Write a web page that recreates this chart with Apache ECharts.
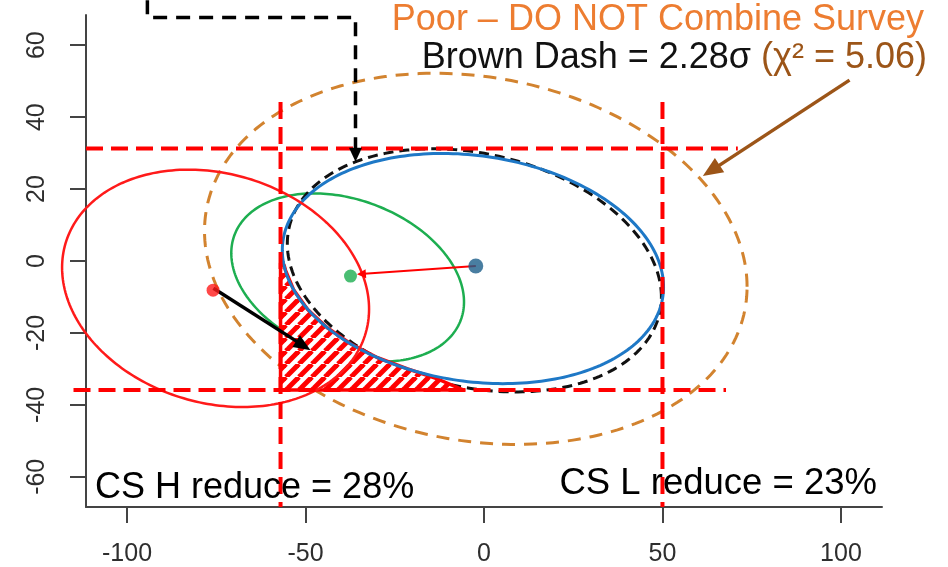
<!DOCTYPE html>
<html><head><meta charset="utf-8">
<script src="https://cdn.jsdelivr.net/npm/echarts@6/dist/echarts.min.js"></script>
<style>html,body{margin:0;padding:0;background:#fff}#c{width:948px;height:567px}</style>
</head><body><div id="c"></div>
<script>
// ---- axes ----
const xTicks = [-100, -50, 0, 50, 100];
const yTicks = [-60, -40, -20, 0, 20, 40, 60];
const xRange = [-111.5, 111.5];
const yRange = [-68.4, 68.4];

// ---- ellipses: centre, half-width, half-height, correlation ----
const ellipseNames = ['CS H', 'Combined', 'CS L', 'Black dash', 'Brown dash'];
const ellipseCx    = [-75.2, -38.2, -3.1, -2.7, -2.3];
const ellipseCy    = [-7.6, -4.6, -2.1, -2.6, 0.6];
const ellipseHalfW = [43.0, 32.6, 53.4, 52.4, 76.0];
const ellipseHalfH = [33.0, 23.4, 32.0, 33.8, 51.6];
const ellipseRho   = [-0.175, -0.29, -0.16, -0.22, -0.15];

// ---- centre points ----
const pointNames = ['CS L centre', 'Combined centre', 'CS H centre'];
const pointX = [-2.3, -37.4, -75.9];
const pointY = [-1.4, -4.2, -8.1];

// ---- red reference lines ----
const refVX = [-57, 50];
const refVYFrom = [44.2, 44.2];
const refVYTo = [-68.4, -68.4];
const refHY = [31.25, -35.9];
const refHXFrom = [-111.5, -115];
const refHXTo = [71.1, 67.8];

// ---- hatched region (outline vertices) ----
const hatchX = [-57, -56.0, -55.6, -53.3, -49.4, -44.0, -37.4, -29.8, -21.4, -13.5, -5.7, -57];
const hatchY = [-0.6, -1.2, -2.6, -8.1, -13.5, -18.5, -23.0, -26.9, -30.0, -32.6, -35.9, -35.9];

// ---- arrows ----
const arrowX1 = [-2.3, -75.8, 102.4];
const arrowY1 = [-1.4, -7.6, 50.3];
const arrowX2 = [-35.6, -48.6, 61.3];
const arrowY2 = [-3.7, -24.8, 23.6];
const pointerX = [-94.3, -94.3, -36.0, -36.0];
const pointerY = [72.5, 67.7, 67.7, 27.6];

// ---- texts ----
const titleText = 'Poor \u2013 DO NOT Combine Survey';
const subA = 'Brown Dash = 2.28\u03c3 ';
const subB = '(\u03c7\u00b2 = 5.06)';
const noteH = 'CS H reduce = 28%';
const noteL = 'CS L reduce = 23%';

const chart = echarts.init(document.getElementById('c'), null, {renderer: 'canvas'});

function ellipseSeries(i, color, width, dash, z) {
  return {
    type: 'custom', name: ellipseNames[i], coordinateSystem: 'cartesian2d', z: z, clip: false,
    silent: true,
    data: [[ellipseCx[i], ellipseCy[i], ellipseHalfW[i], ellipseHalfH[i], ellipseRho[i]]],
    renderItem: function (params, api) {
      const cx = api.value(0), cy = api.value(1), hw = api.value(2), hh = api.value(3), r = api.value(4);
      const s = Math.sqrt(1 - r * r);
      const pts = [];
      for (let k = 0; k <= 240; k++) {
        const t = k / 240 * 2 * Math.PI;
        pts.push(api.coord([cx + hw * Math.cos(t), cy + hh * (r * Math.cos(t) + s * Math.sin(t))]));
      }
      return {type: 'polyline', shape: {points: pts},
        style: {stroke: color, lineWidth: width, lineDash: dash, fill: null}};
    }
  };
}

function arrowGroup(api, pts, color, width, headLen, headW, dash) {
  const c = pts.map(p => api.coord(p));
  const n = c.length;
  const tip = c[n - 1], prev = c[n - 2];
  const dx = tip[0] - prev[0], dy = tip[1] - prev[1], L = Math.hypot(dx, dy);
  const ux = dx / L, uy = dy / L;
  const base = [tip[0] - ux * headLen * 0.8, tip[1] - uy * headLen * 0.8];
  const hb = [tip[0] - ux * headLen, tip[1] - uy * headLen];
  const linePts = c.slice(0, n - 1).concat([base]);
  return {type: 'group', children: [
    {type: 'polyline', shape: {points: linePts}, style: {stroke: color, lineWidth: width, lineDash: dash || null, fill: null}},
    {type: 'polygon', shape: {points: [tip, [hb[0] - uy * headW / 2, hb[1] + ux * headW / 2], [hb[0] + uy * headW / 2, hb[1] - ux * headW / 2]]},
      style: {fill: color, stroke: null}}
  ]};
}

// hatch pattern (opaque white ground, red diagonal stripes)
const T = 13;
const pc = document.createElement('canvas');
pc.width = T; pc.height = T;
const g = pc.getContext('2d');
g.fillStyle = '#FFFFFF'; g.fillRect(0, 0, T, T);
g.strokeStyle = '#FF0000'; g.lineWidth = 5;
for (let k = -1; k <= 1; k++) { g.beginPath(); g.moveTo(k * T, T); g.lineTo(k * T + T, 0); g.stroke(); }

const arrowColors = ['#FF0000', '#000000', '#9C5518'];
const arrowWidths = [2, 3.5, 3.5];
const arrowHeads = [[9, 9], [17, 14], [20, 17]];

const series = [
  ellipseSeries(4, '#D2832F', 3, [13, 9], 2),
  ellipseSeries(1, '#1DAE50', 2.5, null, 3),
  ellipseSeries(3, '#111111', 3, [10, 6], 4),
  {
    type: 'custom', name: 'Overlap', coordinateSystem: 'cartesian2d', z: 5, clip: false, silent: true,
    data: [[hatchX[0], hatchY[0]]],
    renderItem: function (params, api) {
      const pts = hatchX.map((x, i) => api.coord([x, hatchY[i]]));
      return {type: 'polygon', shape: {points: pts},
        style: {fill: {image: pc, repeat: 'repeat'}, stroke: '#FF0000', lineWidth: 3.5, lineJoin: 'round'}};
    }
  },
  ellipseSeries(2, '#1E78C6', 3, null, 6),
  ellipseSeries(0, '#FF1A1A', 2.5, null, 6),
  {
    type: 'custom', name: 'Reference V', coordinateSystem: 'cartesian2d', z: 7, clip: false, silent: true,
    data: refVX.map((x, i) => [x, refVYFrom[i], refVYTo[i]]),
    renderItem: function (params, api) {
      const a = api.coord([api.value(0), api.value(1)]), b = api.coord([api.value(0), api.value(2)]);
      return {type: 'line', shape: {x1: a[0], y1: a[1], x2: b[0], y2: b[1]},
        style: {stroke: '#FF0000', lineWidth: 4, lineDash: [17, 8]}};
    }
  },
  {
    type: 'custom', name: 'Reference H', coordinateSystem: 'cartesian2d', z: 7, clip: false, silent: true,
    data: refHY.map((y, i) => [refHXFrom[i], y, refHXTo[i]]),
    renderItem: function (params, api) {
      const a = api.coord([api.value(0), api.value(1)]), b = api.coord([api.value(2), api.value(1)]);
      return {type: 'line', shape: {x1: a[0], y1: a[1], x2: b[0], y2: b[1]},
        style: {stroke: '#FF0000', lineWidth: 4, lineDash: [17, 8]}};
    }
  },
  {
    type: 'custom', name: 'Arrows', coordinateSystem: 'cartesian2d', z: 8, clip: false, silent: true,
    data: arrowX1.map((x, i) => [x, arrowY1[i], arrowX2[i], arrowY2[i]]),
    renderItem: function (params, api) {
      const i = params.dataIndex;
      return arrowGroup(api, [[api.value(0), api.value(1)], [api.value(2), api.value(3)]],
        arrowColors[i], arrowWidths[i], arrowHeads[i][0], arrowHeads[i][1]);
    }
  },
  {
    type: 'custom', name: 'Pointer', coordinateSystem: 'cartesian2d', z: 8, clip: false, silent: true,
    data: [[pointerX[0], pointerY[0]]],
    renderItem: function (params, api) {
      return arrowGroup(api, pointerX.map((x, i) => [x, pointerY[i]]), '#000000', 3.5, 14, 13, [14, 9]);
    }
  },
  {
    type: 'scatter', name: 'Centres', z: 9, silent: true,
    data: pointX.map((x, i) => ({value: [x, pointY[i]],
      symbolSize: [15, 13, 13][i],
      itemStyle: {color: ['#1B5E8A', '#1DAE50', '#FF1A1A'][i]}}))
  }
];

const axisCommon = {
  type: 'value',
  axisLine: {show: true, onZero: false, lineStyle: {color: '#444', width: 2}},
  axisTick: {show: true, length: 16, lineStyle: {color: '#444', width: 2}},
  splitLine: {show: false}
};

chart.setOption({
  animation: false,
  backgroundColor: '#fff',
  grid: {left: 86, right: 66, top: 15, bottom: 60, containLabel: false, outerBoundsMode: 'none'},
  xAxis: Object.assign({}, axisCommon, {
    min: xRange[0], max: xRange[1],
    axisTick: Object.assign({}, axisCommon.axisTick, {customValues: xTicks}),
    axisLabel: {customValues: xTicks, margin: 35, color: '#2e2e2e', fontSize: 25, fontFamily: 'Liberation Sans, Arial, sans-serif'}
  }),
  yAxis: Object.assign({}, axisCommon, {
    min: yRange[0], max: yRange[1],
    axisTick: Object.assign({}, axisCommon.axisTick, {customValues: yTicks}),
    axisLabel: {customValues: yTicks, rotate: 90, margin: 36, color: '#2e2e2e', fontSize: 25, fontFamily: 'Liberation Sans, Arial, sans-serif'}
  }),
  graphic: [
    {type: 'text', x: 924, y: 20, z: 20, silent: true,
      style: {text: titleText, fill: '#ED7D31', font: '36px "Liberation Sans", Arial, sans-serif',
        align: 'right', verticalAlign: 'middle', textAlign: 'right', textVerticalAlign: 'middle'}},
    {type: 'text', x: 927, y: 58, z: 20, silent: true,
      style: {text: '{a|' + subA + '}{b|' + subB + '}',
        rich: {a: {fill: '#111', color: '#111', fontSize: 36, fontFamily: 'Liberation Sans'},
               b: {fill: '#9C5518', color: '#9C5518', fontSize: 36, fontFamily: 'Liberation Sans'}},
        font: '36px "Liberation Sans"',
        align: 'right', verticalAlign: 'middle', textAlign: 'right', textVerticalAlign: 'middle'}},
    {type: 'text', x: 95, y: 488, z: 20, silent: true,
      style: {text: noteH, fill: '#000', font: '36px "Liberation Sans", Arial, sans-serif',
        align: 'left', verticalAlign: 'middle', textAlign: 'left', textVerticalAlign: 'middle'}},
    {type: 'text', x: 877, y: 484, z: 20, silent: true,
      style: {text: noteL, fill: '#000', font: '36.5px "Liberation Sans", Arial, sans-serif',
        align: 'right', verticalAlign: 'middle', textAlign: 'right', textVerticalAlign: 'middle'}}
  ],
  series: series
});
</script></body></html>
